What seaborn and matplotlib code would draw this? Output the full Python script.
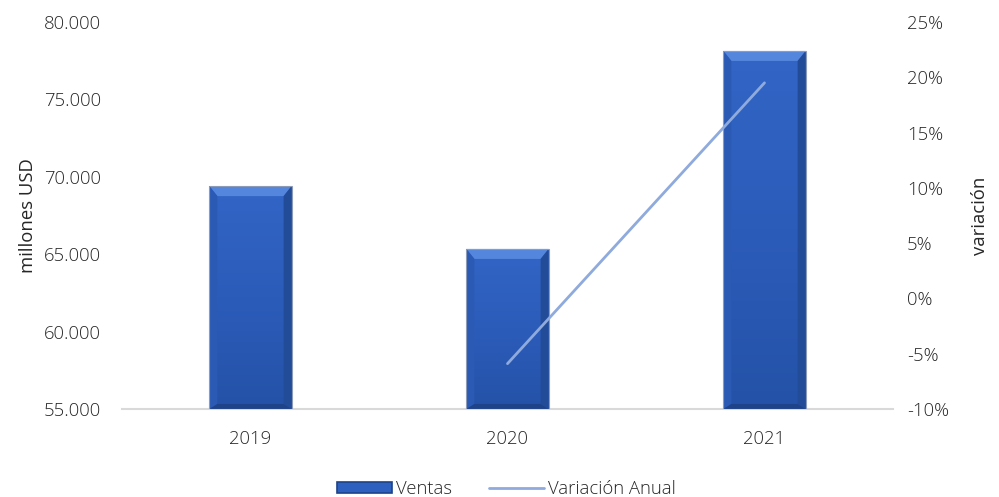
import numpy as np
import pandas as pd
import matplotlib
matplotlib.use("Agg")
import matplotlib.pyplot as plt
import seaborn as sns
from matplotlib.patches import Polygon, Patch, Rectangle
from matplotlib.lines import Line2D
from matplotlib.ticker import FuncFormatter, FixedLocator

# Sales by year (millions USD) and annual variation (%)
years = ["2019", "2020", "2021"]
ventas = [69400, 65340, 78130]
variacion_years = ["2020", "2021"]
variacion = [-5.9, 19.5]

left_ticks = [55000, 60000, 65000, 70000, 75000, 80000]
right_ticks = [-10, -5, 0, 5, 10, 15, 20, 25]

sns.set_theme(style="white")
plt.rcParams["font.family"] = ["Open Sans", "DejaVu Sans"]
plt.rcParams["font.weight"] = "light"

TEXT = "#262626"
BAR = "#2E60C0"
LINE = "#8FAADC"
FS = 13.3

fig = plt.figure(figsize=(9.99, 4.97), dpi=100)
ax = fig.add_axes([0.1221, 0.1771, 0.7718, 0.7786])

df = pd.DataFrame({"anio": years, "ventas": ventas})
sns.barplot(data=df, x="anio", y="ventas", ax=ax, color=BAR, width=0.32,
            saturation=1, edgecolor="none", linewidth=0, zorder=2)
YMIN, YMAX = 55000, 80000
ax.set_ylim(YMIN, YMAX)
ax.set_xlim(-0.5, 2.5)

# bevel shading on each bar, derived from its own geometry
fig.canvas.draw()
to_data = ax.transData.inverted()
cmap = matplotlib.colors.LinearSegmentedColormap.from_list(
    "g", ["#2452A8", "#2C5CBA", "#3265C6"])
for p in list(ax.patches):
    x0, w = p.get_x(), p.get_width()
    y1 = p.get_y() + p.get_height()
    y0 = max(p.get_y(), YMIN)
    x1 = x0 + w
    p.set_visible(False)
    px0, py0 = ax.transData.transform((x0, y1))
    bx = to_data.transform((px0 + 8, py0))[0] - x0
    by = y1 - to_data.transform((px0, py0 - 10))[1]
    byb = y1 - to_data.transform((px0, py0 - 5))[1]
    face = Rectangle((x0, y0), w, y1 - y0, facecolor="none", edgecolor="none")
    ax.add_patch(face)
    grad = np.linspace(0, 1, 256).reshape(-1, 1)
    im = ax.imshow(grad, cmap=cmap, extent=(x0, x1, y0, y1), origin="lower",
                   aspect="auto", zorder=2.1)
    im.set_clip_path(face)
    top = Polygon([(x0, y1), (x1, y1), (x1 - bx, y1 - by), (x0 + bx, y1 - by)],
                  closed=True, facecolor="#5486DD", edgecolor="none", zorder=2.2)
    lft = Polygon([(x0, y1), (x0 + bx, y1 - by), (x0 + bx, y0 + byb), (x0, y0)],
                  closed=True, facecolor="#2B5AB5", edgecolor="none", zorder=2.2)
    rgt = Polygon([(x1, y1), (x1 - bx, y1 - by), (x1 - bx, y0 + byb), (x1, y0)],
                  closed=True, facecolor="#234C98", edgecolor="none", zorder=2.2)
    bot = Polygon([(x0, y0), (x0 + bx, y0 + byb), (x1 - bx, y0 + byb), (x1, y0)],
                  closed=True, facecolor="#1E4389", edgecolor="none", zorder=2.2)
    for poly in (top, lft, rgt, bot):
        ax.add_patch(poly)
    ax.add_patch(Rectangle((x0, y0), w, y1 - y0, fill=False,
                 edgecolor="#8C9CB8", linewidth=0.8, zorder=2.3))
ax.set_xlim(-0.5, 2.5)
ax.set_ylim(YMIN, YMAX)

ax.yaxis.set_major_locator(FixedLocator(left_ticks))
ax.yaxis.set_major_formatter(FuncFormatter(lambda v, _: f"{int(v):,}".replace(",", ".")))
ax.tick_params(axis="y", length=0, pad=15, labelsize=FS, labelcolor=TEXT)
ax.tick_params(axis="x", length=0, pad=15, labelsize=FS, labelcolor=TEXT)
ax.set_xlabel("")
ax.set_ylabel("millones USD", fontsize=FS, color=TEXT, labelpad=5)
for s in ["top", "right", "left"]:
    ax.spines[s].set_visible(False)
ax.spines["bottom"].set_color("#D9D9D9")
ax.spines["bottom"].set_linewidth(1.5)
ax.spines["bottom"].set_zorder(1)

ax2 = ax.twinx()
pos = {y: i for i, y in enumerate(years)}
ax2.plot([pos[y] for y in variacion_years], variacion, color=LINE, lw=2, zorder=3)
ax2.set_ylim(-10, 25)
ax2.yaxis.set_major_locator(FixedLocator(right_ticks))
ax2.yaxis.set_major_formatter(FuncFormatter(lambda v, _: f"{int(v)}%"))
ax2.tick_params(axis="y", length=0, pad=10, labelsize=FS, labelcolor=TEXT)
ax2.set_ylabel("variación", fontsize=FS, color=TEXT, labelpad=16)
for s in ["top", "right", "left", "bottom"]:
    ax2.spines[s].set_visible(False)
ax2.grid(False)
ax.grid(False)

handles = [Patch(facecolor=BAR, edgecolor="#1E4389", linewidth=1.2),
           Line2D([0], [0], color=LINE, lw=2)]
fig.legend(handles, ["Ventas", "Variación Anual"], loc="center",
           bbox_to_anchor=(0.507, 0.016), ncol=2, frameon=False, fontsize=FS,
           handlelength=3.0, handleheight=0.6, columnspacing=2.0,
           handletextpad=0.2, labelcolor=TEXT)

fig.savefig("out.png", dpi=100)
